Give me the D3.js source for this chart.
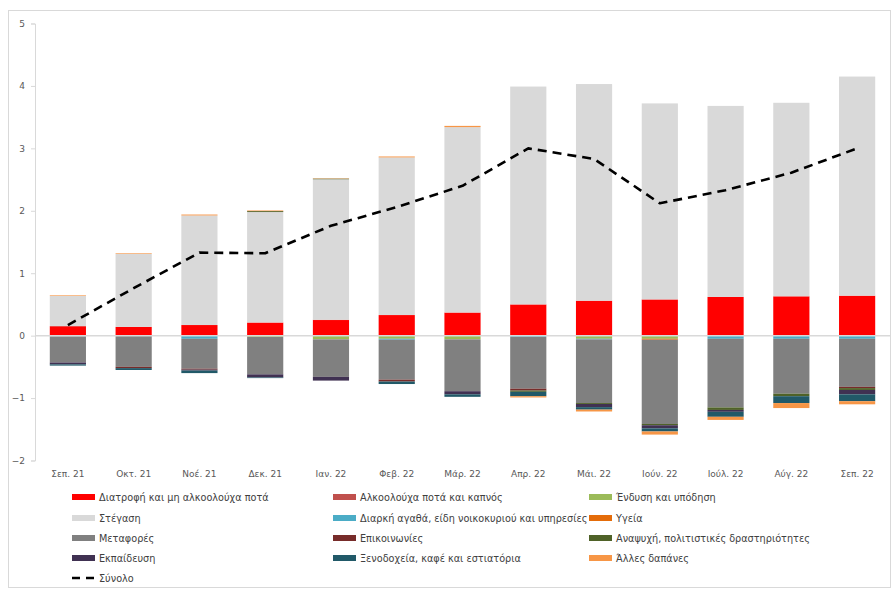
<!DOCTYPE html>
<html><head><meta charset="utf-8">
<script src="https://cdn.jsdelivr.net/npm/d3@7"></script>
<style>
body{margin:0;background:#fff;}
svg{display:block;font-family:"DejaVu Sans",Verdana,sans-serif;}
</style></head>
<body><svg id="c" width="893" height="589"></svg>
<script>
const categories = ["Σεπ. 21","Οκτ. 21","Νοέ. 21","Δεκ. 21","Ιαν. 22","Φεβ. 22","Μάρ. 22","Απρ. 22","Μάι. 22","Ιούν. 22","Ιούλ. 22","Αύγ. 22","Σεπ. 22"];
const yTicks = [-2,-1,0,1,2,3,4,5];

const diatrofi     = [0.15,0.14,0.17,0.21,0.25,0.33,0.37,0.50,0.56,0.58,0.62,0.63,0.64];
const alkooloucha  = [0.005,0,0,0,0.005,0,0,0,0,0,0,0,0];
const endysi       = [0,0,0,-0.02,-0.06,-0.05,-0.06,0,-0.05,-0.05,0,0,0];
const stegasi      = [0.48,1.17,1.755,1.77,2.25,2.525,2.97,3.49,3.47,3.14,3.06,3.10,3.51];
const diarki       = [-0.01,0,-0.05,0,0,-0.015,0,-0.02,-0.01,0,-0.05,-0.05,-0.05];
const ygeia        = [0,0,0,0,0,0,0,0,0,-0.015,0,0,0];
const metafores    = [-0.42,-0.50,-0.48,-0.60,-0.60,-0.64,-0.83,-0.83,-1.02,-1.35,-1.10,-0.88,-0.77];
const epikoinonies = [0,-0.02,-0.015,0,0,-0.03,0,-0.03,0,0,0,0,-0.02];
const anapsychi    = [0,0,0,0.015,0.01,0,0,-0.02,-0.015,-0.02,-0.04,-0.04,-0.03];
const ekpaidefsi   = [-0.03,0,-0.015,-0.05,-0.06,0,-0.05,0,-0.05,-0.05,-0.03,0,-0.07];
const xenodocheia  = [-0.02,-0.03,-0.04,-0.01,0,-0.04,-0.04,-0.07,-0.04,-0.05,-0.08,-0.11,-0.11];
const alles        = [0.01,0.01,0.015,0.01,0.005,0.015,0.02,-0.02,-0.03,-0.05,-0.05,-0.08,-0.05];
const synolo       = [0.17,0.76,1.33,1.32,1.76,2.06,2.4,3.0,2.83,2.12,2.33,2.61,3.0];

const seriesNames = ["Διατροφή και μη αλκοολούχα ποτά","Αλκοολούχα ποτά και καπνός","Ένδυση και υπόδηση","Στέγαση","Διαρκή αγαθά, είδη νοικοκυριού και υπηρεσίες","Υγεία","Μεταφορές","Επικοινωνίες","Αναψυχή, πολιτιστικές δραστηριότητες","Εκπαίδευση","Ξενοδοχεία, καφέ και εστιατόρια","Άλλες δαπάνες"];
const seriesValues = [diatrofi,alkooloucha,endysi,stegasi,diarki,ygeia,metafores,epikoinonies,anapsychi,ekpaidefsi,xenodocheia,alles];
const seriesColors = ["#ff0000","#c0504d","#9bbb59","#d9d9d9","#4bacc6","#e46c0a","#808080","#772c2a","#4f6228","#403152","#215968","#f79646"];
const lineName = "Σύνολο";

const svg = d3.select("#c");
svg.append("rect").attr("x",8.5).attr("y",10.5).attr("width",882).attr("height",577)
  .attr("fill","none").attr("stroke","#d9d9d9");

const x = d3.scaleBand().domain(categories).range([35,890]).paddingInner(0.45).paddingOuter(0.225);
const y = d3.scaleLinear().domain([-2,5]).range([460.5,23.5]);

const table = categories.map((c,i)=>{const o={cat:c}; seriesNames.forEach((n,j)=>o[n]=seriesValues[j][i]); return o;});
const stack = d3.stack().keys(seriesNames).offset(d3.stackOffsetDiverging)(table);

const yAxis = svg.append("g").attr("transform","translate(35,0)")
  .call(d3.axisLeft(y).tickValues(yTicks).tickSize(4).tickPadding(6).tickFormat(d3.format("d")));
yAxis.select(".domain").attr("stroke","#d9d9d9");
yAxis.selectAll(".tick line").attr("stroke","#d9d9d9");
yAxis.selectAll("text").attr("fill","#595959").style("font-size","9px").style("font-family","DejaVu Sans, Verdana, sans-serif");

svg.append("g").selectAll("g").data(stack).join("g").attr("fill",(d,i)=>seriesColors[i])
  .selectAll("rect").data(d=>d).join("rect")
  .attr("x",d=>x(d.data.cat)).attr("width",x.bandwidth())
  .attr("y",d=>y(Math.max(d[0],d[1]))).attr("height",d=>Math.abs(y(d[0])-y(d[1])));

svg.append("line").attr("x1",35).attr("x2",890).attr("y1",y(0)).attr("y2",y(0))
  .attr("stroke","#d9d9d9").attr("stroke-width",1.5);

const line = d3.line().x((d,i)=>x(categories[i])+x.bandwidth()/2).y(d=>y(d));
svg.append("path").datum(synolo).attr("d",line).attr("fill","none")
  .attr("stroke","#000").attr("stroke-width",2.6).attr("stroke-dasharray","9,6").attr("stroke-linejoin","round");

svg.append("g").selectAll("text").data(categories).join("text")
  .attr("x",d=>x(d)+x.bandwidth()/2).attr("y",477).attr("text-anchor","middle")
  .attr("fill","#595959").style("font-size","9px").text(d=>d);

const colX = [72,333,589];
const rowY = [497,518,538,558,578];
const leg = svg.append("g");
seriesNames.forEach((n,i)=>{
  const cx = colX[i%3], cy = rowY[Math.floor(i/3)];
  leg.append("rect").attr("x",cx).attr("y",cy-3).attr("width",23).attr("height",6).attr("fill",seriesColors[i]);
  leg.append("text").attr("x",cx+27).attr("y",cy+3.5).attr("fill","#404040").style("font-size","9.7px").text(n);
});
leg.append("line").attr("x1",72).attr("x2",95).attr("y1",rowY[4]).attr("y2",rowY[4])
  .attr("stroke","#000").attr("stroke-width",2.6).attr("stroke-dasharray","8,6");
leg.append("text").attr("x",99).attr("y",rowY[4]+3.5).attr("fill","#404040").style("font-size","9.7px").text(lineName);
</script></body></html>
